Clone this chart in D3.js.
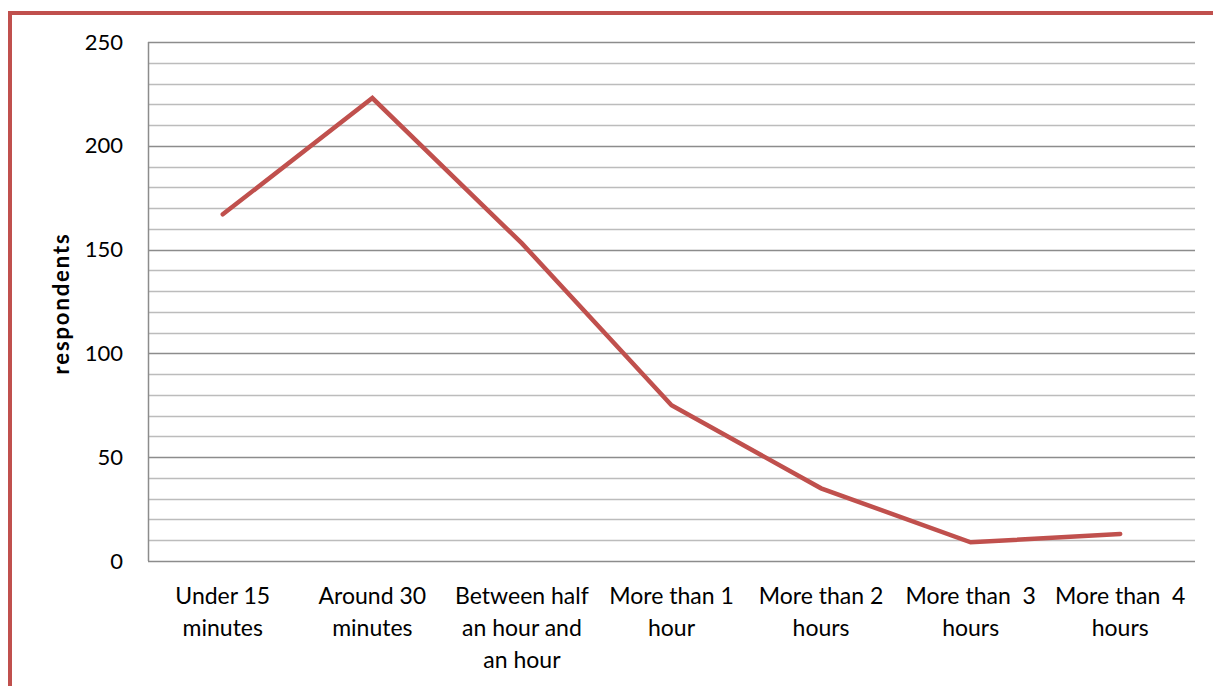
<!DOCTYPE html>
<html>
<head>
<meta charset="utf-8">
<script src="https://cdn.jsdelivr.net/npm/d3@7"></script>
<style>
  html, body { margin: 0; padding: 0; background: #fff; }
  svg { display: block; }
  text { font-family: Lato, "Open Sans", sans-serif; fill: #000; }
</style>
</head>
<body>
<svg id="chart" width="1213" height="686"></svg>
<script>
// Categories (label lines) and respondent counts
const categories = [
  ["Under 15", "minutes"],
  ["Around 30", "minutes"],
  ["Between half", "an hour and", "an hour"],
  ["More than 1", "hour"],
  ["More than 2", "hours"],
  ["More than  3", "hours"],
  ["More than  4", "hours"]
];
const respondents = [167, 223, 153, 75, 35, 9, 13];
const yTicks = [0, 50, 100, 150, 200, 250];
const yMinorStep = 10;
const yTitle = "respondents";

const svg = d3.select("#chart");
const W = 1213, H = 686;
const plot = { left: 148, right: 1195, top: 42, bottom: 561 };
const red = "#c0504d";

// Chart frame
svg.append("rect")
  .attr("x", 10).attr("y", 13)
  .attr("width", W + 20).attr("height", H + 20)
  .attr("fill", "none").attr("stroke", red).attr("stroke-width", 4);

const keys = categories.map((c, i) => i);
const x = d3.scaleBand().domain(keys).range([plot.left, plot.right]);
const y = d3.scaleLinear().domain([0, 250]).range([plot.bottom, plot.top]);

// Minor and major horizontal gridlines
const minor = d3.range(0, 251, yMinorStep).filter(v => v % 50 !== 0);
svg.append("g").selectAll("line").data(minor).join("line")
  .attr("x1", plot.left).attr("x2", plot.right)
  .attr("y1", d => Math.round(y(d)) + 0.5).attr("y2", d => Math.round(y(d)) + 0.5)
  .attr("stroke", "#bcbcbc").attr("stroke-width", 1.5);
svg.append("g").selectAll("line").data(yTicks).join("line")
  .attr("x1", plot.left).attr("x2", plot.right)
  .attr("y1", d => Math.round(y(d)) + 0.5).attr("y2", d => Math.round(y(d)) + 0.5)
  .attr("stroke", "#8c8c8c").attr("stroke-width", 1.5);

// Vertical axis line
svg.append("line")
  .attr("x1", plot.left + 0.5).attr("x2", plot.left + 0.5)
  .attr("y1", plot.top).attr("y2", plot.bottom)
  .attr("stroke", "#8c8c8c").attr("stroke-width", 1.5);

// Y tick labels
const yAxis = d3.axisLeft(y).tickValues(yTicks).tickSize(0).tickPadding(25);
const ya = svg.append("g").attr("transform", `translate(${plot.left},0)`).call(yAxis);
ya.select(".domain").remove();
ya.selectAll("text")
  .style("font-size", "22px")
  .style("font-family", "Lato, 'Open Sans', sans-serif")
  .attr("fill", "#000");

// Y title
svg.append("text")
  .attr("transform", `translate(69,${(plot.top + plot.bottom) / 2 + 2}) rotate(-90)`)
  .attr("text-anchor", "middle")
  .style("font-size", "22px").style("font-weight", "bold")
  .style("letter-spacing", "1.9px")
  .text(yTitle);

// Category labels
const xl = svg.append("g");
categories.forEach((lines, i) => {
  const cx = x(i) + x.bandwidth() / 2;
  const t = xl.append("text")
    .attr("x", cx)
    .attr("y", 604)
    .attr("text-anchor", "middle")
    .attr("xml:space", "preserve")
    .style("white-space", "pre")
    .style("font-size", "23px");
  lines.forEach((ln, j) => {
    t.append("tspan")
      .attr("x", cx)
      .attr("dy", j === 0 ? 0 : 32)
      .text(ln);
  });
});

// Series line
const line = d3.line()
  .x((d, i) => x(i) + x.bandwidth() / 2)
  .y(d => y(d));
svg.append("path")
  .datum(respondents)
  .attr("d", line)
  .attr("fill", "none")
  .attr("stroke", red)
  .attr("stroke-width", 4.5)
  .attr("stroke-linecap", "round")
  .attr("stroke-linejoin", "miter");
</script>
</body>
</html>
